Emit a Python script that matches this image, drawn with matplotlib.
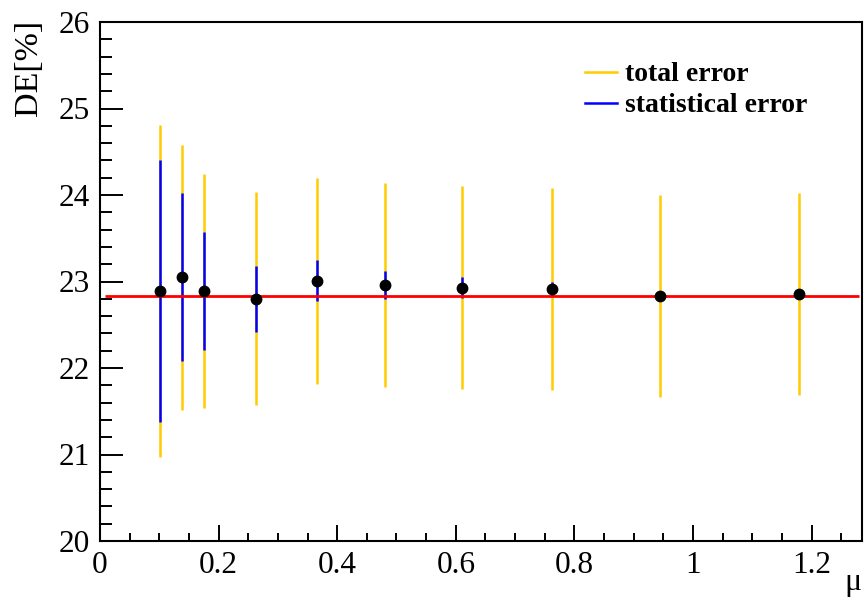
import matplotlib
matplotlib.use("Agg")
import matplotlib.pyplot as plt
from matplotlib.ticker import MultipleLocator, FuncFormatter
from matplotlib.lines import Line2D

# ---- data ----
mu = [0.102, 0.139, 0.176, 0.263, 0.366, 0.480, 0.611, 0.763, 0.945, 1.179]
de = [22.89, 23.05, 22.89, 22.80, 23.01, 22.96, 22.93, 22.91, 22.83, 22.855]
total_err = [1.92, 1.53, 1.35, 1.23, 1.19, 1.18, 1.17, 1.17, 1.165, 1.165]
stat_err = [1.51, 0.97, 0.68, 0.38, 0.24, 0.165, 0.12, 0.08, 0.04, 0.03]
fit_value = 22.83
fit_range = [0.008, 1.28]
x_ticks = [0, 0.2, 0.4, 0.6, 0.8, 1.0, 1.2]
y_ticks = [20, 21, 22, 23, 24, 25, 26]

plt.rcParams['font.family'] = ['Liberation Serif', 'DejaVu Serif']

fig = plt.figure(figsize=(8.64, 6.03), dpi=100)
W, H = 864, 603
ax = fig.add_axes([100 / W, 1 - 541 / H, (862 - 100) / W, (541 - 22) / H])

gold = '#FFCC00'
blue = '#0000FF'

ax.errorbar(mu, de, yerr=total_err, fmt='none', ecolor=gold, elinewidth=1.8,
            capsize=0, zorder=2)
ax.errorbar(mu, de, yerr=stat_err, fmt='none', ecolor=blue, elinewidth=1.8,
            capsize=0, zorder=3)
ax.hlines(fit_value, fit_range[0], fit_range[1], colors='#FF0000',
          linewidth=2.0, zorder=4)
ax.plot(mu, de, 'o', color='black', markersize=7.5, zorder=5)

ax.set_xlim(0, 1.285)
ax.set_ylim(20, 26)
ax.set_xticks(x_ticks)
ax.set_yticks(y_ticks)
ax.xaxis.set_minor_locator(MultipleLocator(0.05))
ax.yaxis.set_minor_locator(MultipleLocator(0.2))
ax.xaxis.set_major_formatter(FuncFormatter(lambda v, p: '%g' % v))
ax.yaxis.set_major_formatter(FuncFormatter(lambda v, p: '%g' % v))

ax.tick_params(axis='x', which='major', direction='in', length=11.5, width=1.4,
               labelsize=22.5, pad=7, top=False)
ax.tick_params(axis='x', which='minor', direction='in', length=5.8, width=1.4,
               top=False)
ax.tick_params(axis='y', which='major', direction='in', length=16.5, width=1.4,
               labelsize=22.5, pad=7, right=False)
ax.tick_params(axis='y', which='minor', direction='in', length=8.6, width=1.4,
               right=False)
for s in ax.spines.values():
    s.set_linewidth(1.5)

fig.text(29 / W, 1 - 20 / H, 'DE[%]', rotation=90, ha='center', va='top',
         fontsize=24.5)
ax.set_xlabel('μ', loc='right', fontsize=23)
ax.xaxis.set_label_coords(0.999, -0.052)

handles = [Line2D([], [], color=gold, linewidth=1.8),
           Line2D([], [], color=blue, linewidth=1.8)]
ax.legend(handles, ['total error', 'statistical error'], loc='upper left',
          bbox_to_anchor=(585 / W, 1 - 62 / H), bbox_transform=fig.transFigure,
          frameon=False, borderpad=0, borderaxespad=0, handlelength=1.15,
          handletextpad=0.3, labelspacing=0.2,
          prop={'family': 'Liberation Serif', 'weight': 'bold', 'size': 20})

fig.savefig('out.png', dpi=100)
